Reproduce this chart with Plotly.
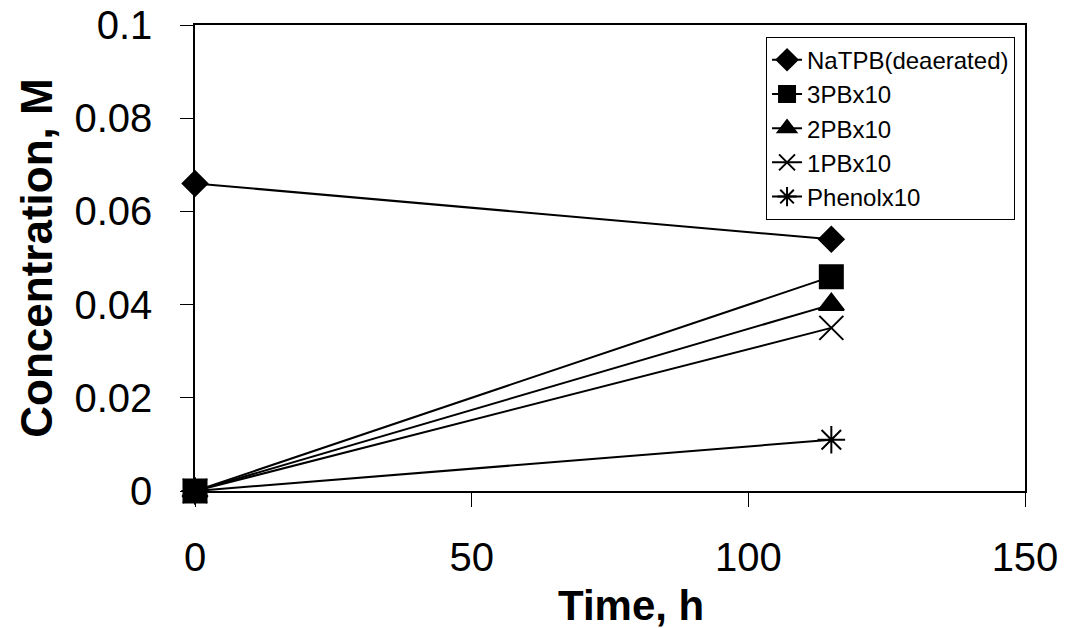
import plotly.graph_objects as go

time_h = [0, 115]
natpb = [0.066, 0.054]
pb3_x10 = [0, 0.046]
pb2_x10 = [0, 0.040]
pb1_x10 = [0, 0.035]
phenol_x10 = [0, 0.011]

series = [
    ("NaTPB(deaerated)", natpb, "diamond", 19),
    ("3PBx10", pb3_x10, "square", 23),
    ("2PBx10", pb2_x10, "triangle-up", 22),
    ("1PBx10", pb1_x10, "x-thin", 24),
    ("Phenolx10", phenol_x10, "asterisk", 23),
]

x_ticks = [0, 50, 100, 150]
y_ticks = [0, 0.02, 0.04, 0.06, 0.08, 0.1]
y_ticktext = ["0", "0.02", "0.04", "0.06", "0.08", "0.1"]

fig = go.Figure()
for name, vals, sym, sz in series:
    fig.add_trace(go.Scatter(
        x=time_h, y=vals, name=name, mode="lines+markers",
        line=dict(color="black", width=2),
        marker=dict(symbol=sym, size=sz, color="black",
                    line=dict(color="black", width=2)),
        cliponaxis=False,
    ))

font = "Liberation Sans, Arial, sans-serif"
fig.update_layout(
    width=1071, height=628,
    margin=dict(l=195, r=46, t=25, b=137, autoexpand=False),
    paper_bgcolor="white", plot_bgcolor="white",
    font=dict(family=font, color="black"),
    showlegend=True,
    legend=dict(
        x=0.988, y=0.975, xanchor="right", yanchor="top",
        bgcolor="white", bordercolor="black", borderwidth=1,
        font=dict(size=24, family=font, color="black"),
        tracegroupgap=0,
    ),
    xaxis=dict(
        range=[0, 150], tickvals=x_ticks, ticks="outside", ticklen=14,
        tickcolor="black", tickwidth=1, showline=True, linecolor="black",
        linewidth=1.5, mirror=True, showgrid=False, zeroline=False,
        tickfont=dict(size=40, family=font, color="black"),
        ticklabelstandoff=16, ticklabeloverflow="allow",
        automargin=False,
    ),
    yaxis=dict(
        range=[0, 0.1], tickvals=y_ticks, ticktext=y_ticktext, ticks="outside", ticklen=13,
        tickcolor="black", tickwidth=1, showline=True, linecolor="black",
        linewidth=1.5, mirror=True, showgrid=False, zeroline=False,
        tickfont=dict(size=40, family=font, color="black"),
        ticklabelstandoff=20, ticklabeloverflow="allow",
        title=dict(text="<b>Concentration, M</b>", font=dict(size=44, family=font, color="black"), standoff=8),
        automargin=False,
    ),
    annotations=[dict(
        text="<b>Time, h</b>", xref="paper", yref="paper", x=0.525, y=-0.245,
        xanchor="center", yanchor="middle", showarrow=False,
        font=dict(size=42, family=font, color="black"),
    )],
)

fig.write_html(
    "out.html",
    config={"displayModeBar": False},
    post_script="document.body.style.margin='0';document.body.style.overflow='hidden';",
)
